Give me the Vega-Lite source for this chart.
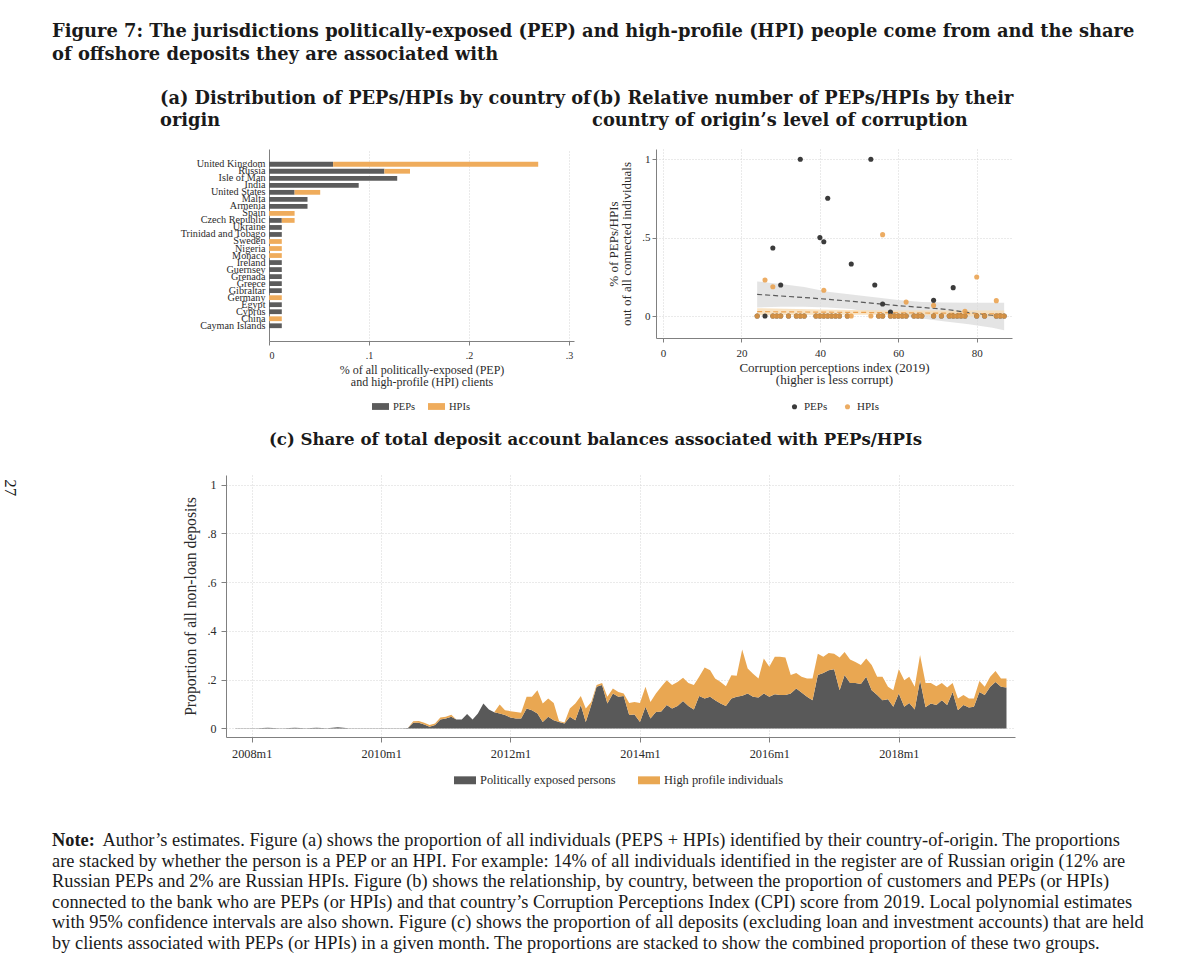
{
  "$schema": "https://vega.github.io/schema/vega-lite/v6.json",
  "background": "white",
  "padding": {"left": 2, "top": 23, "right": 5, "bottom": 5},
  "config": {
    "font": "Liberation Serif",
    "view": {"stroke": null},
    "axis": {"domainColor": "#808080", "tickColor": "#808080", "labelColor": "#2b2b2b", "titleColor": "#2b2b2b", "titleFontWeight": "normal", "gridColor": "#d4d4d4", "gridDash": [1, 2], "labelFont": "Liberation Serif", "titleFont": "Liberation Serif"},
    "legend": {"labelFont": "Liberation Serif", "labelColor": "#2b2b2b", "layout": {"bottom": {"anchor": "middle"}}},
    "title": {"font": "DejaVu Serif", "fontWeight": "bold", "color": "#1a1a1a"}
  },
  "title": {"text": "27", "orient": "left", "anchor": "middle", "angle": 90, "font": "Liberation Serif", "fontWeight": "normal", "fontSize": 17, "offset": 17},
  "vconcat": [
    {
      "title": {"text": ["Figure 7: The jurisdictions politically-exposed (PEP) and high-profile (HPI) people come from and the share", "of offshore deposits they are associated with"], "anchor": "start", "fontSize": 17.86, "lineHeight": 23, "offset": 26},
      "vconcat": [
        {
          "title": {"text": "Note:", "subtitle": ["\u200b\u00a0\u00a0\u00a0\u00a0\u00a0\u00a0\u00a0\u00a0\u00a0\u00a0\u00a0Author’s estimates. Figure (a) shows the proportion of all individuals (PEPS + HPIs) identified by their country-of-origin. The proportions", "are stacked by whether the person is a PEP or an HPI. For example: 14% of all individuals identified in the register are of Russian origin (12% are", "Russian PEPs and 2% are Russian HPIs. Figure (b) shows the relationship, by country, between the proportion of customers and PEPs (or HPIs)", "connected to the bank who are PEPs (or HPIs) and that country’s Corruption Perceptions Index (CPI) score from 2019. Local polynomial estimates", "with 95% confidence intervals are also shown. Figure (c) shows the proportion of all deposits (excluding loan and investment accounts) that are held", "by clients associated with PEPs (or HPIs) in a given month. The proportions are stacked to show the combined proportion of these two groups."], "orient": "bottom", "anchor": "start", "dx": -108, "font": "Liberation Serif", "fontSize": 18.35, "fontWeight": "bold", "subtitleFont": "Liberation Serif", "subtitleFontSize": 18.35, "subtitleFontWeight": "normal", "subtitleColor": "#1a1a1a", "subtitleLineHeight": 20.6, "subtitlePadding": -18.35, "offset": 45},
          "vconcat": [
            {
              "title": {"text": ["(b) Relative number of PEPs/HPIs by their", "country of origin’s level of corruption"], "anchor": "start", "dx": 432, "fontSize": 17.8, "lineHeight": 22, "offset": -39.8},
              "vconcat": [
                {
                  "title": {"text": ["(a) Distribution of PEPs/HPIs by country of", "origin"], "anchor": "start", "dx": -20, "fontSize": 17.8, "lineHeight": 22, "offset": 19.2},
                  "center": true,
                  "spacing": 20,
                  "resolve": {"scale": {"color": "independent"}, "legend": {"color": "independent"}},
                  "vconcat": [
                    {
                      "hconcat": [
                        {
                          "width": 305,
                          "height": 192,
                          "data": {"values": [
                            {"country": "United Kingdom", "group": "PEPs", "share": 0.0641},
                            {"country": "United Kingdom", "group": "HPIs", "share": 0.2051},
                            {"country": "Russia", "group": "PEPs", "share": 0.1154},
                            {"country": "Russia", "group": "HPIs", "share": 0.0256},
                            {"country": "Isle of Man", "group": "PEPs", "share": 0.1282},
                            {"country": "India", "group": "PEPs", "share": 0.0897},
                            {"country": "United States", "group": "PEPs", "share": 0.0256},
                            {"country": "United States", "group": "HPIs", "share": 0.0256},
                            {"country": "Malta", "group": "PEPs", "share": 0.0385},
                            {"country": "Armenia", "group": "PEPs", "share": 0.0385},
                            {"country": "Spain", "group": "HPIs", "share": 0.0256},
                            {"country": "Czech Republic", "group": "PEPs", "share": 0.0128},
                            {"country": "Czech Republic", "group": "HPIs", "share": 0.0128},
                            {"country": "Ukraine", "group": "PEPs", "share": 0.0128},
                            {"country": "Trinidad and Tobago", "group": "PEPs", "share": 0.0128},
                            {"country": "Sweden", "group": "HPIs", "share": 0.0128},
                            {"country": "Nigeria", "group": "HPIs", "share": 0.0128},
                            {"country": "Monaco", "group": "HPIs", "share": 0.0128},
                            {"country": "Ireland", "group": "PEPs", "share": 0.0128},
                            {"country": "Guernsey", "group": "PEPs", "share": 0.0128},
                            {"country": "Grenada", "group": "PEPs", "share": 0.0128},
                            {"country": "Greece", "group": "PEPs", "share": 0.0128},
                            {"country": "Gibraltar", "group": "PEPs", "share": 0.0128},
                            {"country": "Germany", "group": "HPIs", "share": 0.0128},
                            {"country": "Egypt", "group": "PEPs", "share": 0.0128},
                            {"country": "Cyprus", "group": "PEPs", "share": 0.0128},
                            {"country": "China", "group": "HPIs", "share": 0.0128},
                            {"country": "Cayman Islands", "group": "PEPs", "share": 0.0128}
                          ]},
                          "mark": {"type": "bar"},
                          "encoding": {
                            "y": {"field": "country", "type": "nominal", "scale": {"domain": [" ", "United Kingdom", "Russia", "Isle of Man", "India", "United States", "Malta", "Armenia", "Spain", "Czech Republic", "Ukraine", "Trinidad and Tobago", "Sweden", "Nigeria", "Monaco", "Ireland", "Guernsey", "Grenada", "Greece", "Gibraltar", "Germany", "Egypt", "Cyprus", "China", "Cayman Islands", "  "], "paddingInner": 0.32, "paddingOuter": 0.83}, "axis": {"title": null, "ticks": false, "labelFontSize": 10.2, "labelPadding": 4}},
                            "x": {"field": "share", "type": "quantitative", "stack": "zero", "scale": {"domain": [0, 0.305], "nice": false}, "axis": {"values": [0, 0.1, 0.2, 0.3], "labelExpr": "datum.value == 0 ? '0' : datum.value == 1 ? '1' : replace(format(datum.value, '.1f'), '0.', '.')", "title": ["% of all politically-exposed (PEP)", "and high-profile (HPI) clients"], "grid": true, "tickSize": 4, "labelFontSize": 10, "labelPadding": 5, "titleFontSize": 12, "titleLineHeight": 12.3, "titlePadding": 4}},
                            "color": {"field": "group", "type": "nominal", "scale": {"domain": ["PEPs", "HPIs"], "range": ["#5c5c5c", "#efac5c"]}, "legend": {"title": null, "orient": "bottom", "direction": "horizontal", "symbolType": "M-1,-0.4H1V0.4H-1Z", "symbolSize": 289, "symbolStrokeWidth": 0, "labelFontSize": 10.5, "columnPadding": 12, "offset": 10}},
                            "order": {"field": "group", "sort": "descending"}
                          }
                        },
                        {
                          "width": 356,
                          "height": 189,
                          "encoding": {
                            "x": {"field": "cpi", "type": "quantitative", "scale": {"domain": [-1.8, 89], "nice": false, "zero": false}, "axis": {"values": [0, 20, 40, 60, 80], "title": ["Corruption perceptions index (2019)", "(higher is less corrupt)"], "grid": true, "tickSize": 4, "labelFontSize": 11, "labelPadding": 5, "titleFontSize": 13, "titleLineHeight": 12.5, "titlePadding": 3}}
                          },
                          "layer": [
                            {
                              "data": {"name": "fitp", "values": [
                                {"cpi": 24, "g": "PEPs", "fit": 0.138, "lo": 0.055, "hi": 0.221},
                                {"cpi": 30, "g": "PEPs", "fit": 0.128, "lo": 0.06, "hi": 0.205},
                                {"cpi": 36, "g": "PEPs", "fit": 0.118, "lo": 0.06, "hi": 0.185},
                                {"cpi": 42, "g": "PEPs", "fit": 0.107, "lo": 0.055, "hi": 0.155},
                                {"cpi": 48, "g": "PEPs", "fit": 0.094, "lo": 0.045, "hi": 0.138},
                                {"cpi": 54, "g": "PEPs", "fit": 0.08, "lo": 0.02, "hi": 0.12},
                                {"cpi": 60, "g": "PEPs", "fit": 0.066, "lo": 0.0, "hi": 0.102},
                                {"cpi": 66, "g": "PEPs", "fit": 0.055, "lo": -0.015, "hi": 0.09},
                                {"cpi": 72, "g": "PEPs", "fit": 0.043, "lo": -0.035, "hi": 0.086},
                                {"cpi": 78, "g": "PEPs", "fit": 0.022, "lo": -0.052, "hi": 0.085},
                                {"cpi": 84, "g": "PEPs", "fit": 0.005, "lo": -0.075, "hi": 0.085},
                                {"cpi": 87, "g": "PEPs", "fit": -0.005, "lo": -0.09, "hi": 0.085}
                              ]},
                              "mark": {"type": "area", "color": "#d9d9d9", "opacity": 0.7},
                              "encoding": {
                                "y": {"field": "lo", "type": "quantitative", "scale": {"domain": [-0.14, 1.065], "nice": false, "zero": false}, "axis": {"values": [0, 0.5, 1], "labelExpr": "datum.value == 0 ? '0' : datum.value == 1 ? '1' : replace(format(datum.value, '.1f'), '0.', '.')", "title": ["% of PEPs/HPIs", "out of all connected individuals"], "grid": true, "tickSize": 4, "labelFontSize": 11, "labelPadding": 2, "titleFontSize": 13, "titleLineHeight": 13.3, "titlePadding": 8}},
                                "y2": {"field": "hi"}
                              }
                            },
                            {
                              "data": {"name": "fith", "values": [
                                {"cpi": 24, "g": "HPIs", "fit": 0.028, "lo": 0.005, "hi": 0.05},
                                {"cpi": 40, "g": "HPIs", "fit": 0.025, "lo": 0.008, "hi": 0.042},
                                {"cpi": 56, "g": "HPIs", "fit": 0.022, "lo": 0.008, "hi": 0.036},
                                {"cpi": 72, "g": "HPIs", "fit": 0.018, "lo": 0.003, "hi": 0.035},
                                {"cpi": 87, "g": "HPIs", "fit": 0.013, "lo": -0.008, "hi": 0.035}
                              ]},
                              "mark": {"type": "area", "color": "#f7dcb4", "opacity": 0.8},
                              "encoding": {
                                "y": {"field": "lo", "type": "quantitative", "scale": {"domain": [-0.14, 1.065], "nice": false, "zero": false}, "axis": {"values": [0, 0.5, 1], "labelExpr": "datum.value == 0 ? '0' : datum.value == 1 ? '1' : replace(format(datum.value, '.1f'), '0.', '.')", "title": ["% of PEPs/HPIs", "out of all connected individuals"], "grid": true, "tickSize": 4, "labelFontSize": 11, "labelPadding": 2, "titleFontSize": 13, "titleLineHeight": 13.3, "titlePadding": 8}},
                                "y2": {"field": "hi"}
                              }
                            },
                            {
                              "data": {"name": "fitp"},
                              "mark": {"type": "line", "color": "#5a5a5a", "strokeWidth": 1.2, "strokeDash": [5, 3]},
                              "encoding": {
                                "y": {"field": "fit", "type": "quantitative", "scale": {"domain": [-0.14, 1.065], "nice": false, "zero": false}, "axis": {"values": [0, 0.5, 1], "labelExpr": "datum.value == 0 ? '0' : datum.value == 1 ? '1' : replace(format(datum.value, '.1f'), '0.', '.')", "title": ["% of PEPs/HPIs", "out of all connected individuals"], "grid": true, "tickSize": 4, "labelFontSize": 11, "labelPadding": 2, "titleFontSize": 13, "titleLineHeight": 13.3, "titlePadding": 8}}
                              }
                            },
                            {
                              "data": {"name": "fith"},
                              "mark": {"type": "line", "color": "#eba14e", "strokeWidth": 1.2, "strokeDash": [5, 3]},
                              "encoding": {
                                "y": {"field": "fit", "type": "quantitative", "scale": {"domain": [-0.14, 1.065], "nice": false, "zero": false}, "axis": {"values": [0, 0.5, 1], "labelExpr": "datum.value == 0 ? '0' : datum.value == 1 ? '1' : replace(format(datum.value, '.1f'), '0.', '.')", "title": ["% of PEPs/HPIs", "out of all connected individuals"], "grid": true, "tickSize": 4, "labelFontSize": 11, "labelPadding": 2, "titleFontSize": 13, "titleLineHeight": 13.3, "titlePadding": 8}}
                              }
                            },
                            {
                              "data": {"values": [
                                {"cpi": 24, "group": "PEPs", "share": 0}, {"cpi": 26, "group": "PEPs", "share": 0}, {"cpi": 28, "group": "PEPs", "share": 0.434}, {"cpi": 28, "group": "PEPs", "share": 0}, {"cpi": 29, "group": "PEPs", "share": 0}, {"cpi": 30, "group": "PEPs", "share": 0.198}, {"cpi": 30, "group": "PEPs", "share": 0}, {"cpi": 32, "group": "PEPs", "share": 0}, {"cpi": 34, "group": "PEPs", "share": 0}, {"cpi": 35, "group": "PEPs", "share": 1}, {"cpi": 35, "group": "PEPs", "share": 0}, {"cpi": 36, "group": "PEPs", "share": 0}, {"cpi": 39, "group": "PEPs", "share": 0}, {"cpi": 40, "group": "PEPs", "share": 0.5}, {"cpi": 40, "group": "PEPs", "share": 0}, {"cpi": 41, "group": "PEPs", "share": 0.474}, {"cpi": 41, "group": "PEPs", "share": 0}, {"cpi": 42, "group": "PEPs", "share": 0.751}, {"cpi": 42, "group": "PEPs", "share": 0}, {"cpi": 43, "group": "PEPs", "share": 0}, {"cpi": 44, "group": "PEPs", "share": 0}, {"cpi": 45, "group": "PEPs", "share": 0}, {"cpi": 47, "group": "PEPs", "share": 0}, {"cpi": 48, "group": "PEPs", "share": 0.332}, {"cpi": 53, "group": "PEPs", "share": 1}, {"cpi": 54, "group": "PEPs", "share": 0.198}, {"cpi": 55, "group": "PEPs", "share": 0}, {"cpi": 56, "group": "PEPs", "share": 0.077}, {"cpi": 56, "group": "PEPs", "share": 0}, {"cpi": 58, "group": "PEPs", "share": 0.026}, {"cpi": 58, "group": "PEPs", "share": 0}, {"cpi": 59, "group": "PEPs", "share": 0}, {"cpi": 60, "group": "PEPs", "share": 0}, {"cpi": 61, "group": "PEPs", "share": 0}, {"cpi": 62, "group": "PEPs", "share": 0}, {"cpi": 64, "group": "PEPs", "share": 0}, {"cpi": 65, "group": "PEPs", "share": 0}, {"cpi": 66, "group": "PEPs", "share": 0}, {"cpi": 69, "group": "PEPs", "share": 0.1}, {"cpi": 69, "group": "PEPs", "share": 0}, {"cpi": 71, "group": "PEPs", "share": 0}, {"cpi": 73, "group": "PEPs", "share": 0}, {"cpi": 74, "group": "PEPs", "share": 0.181}, {"cpi": 74, "group": "PEPs", "share": 0}, {"cpi": 75, "group": "PEPs", "share": 0}, {"cpi": 76, "group": "PEPs", "share": 0}, {"cpi": 77, "group": "PEPs", "share": 0}, {"cpi": 80, "group": "PEPs", "share": 0}, {"cpi": 82, "group": "PEPs", "share": 0}, {"cpi": 85, "group": "PEPs", "share": 0}, {"cpi": 86, "group": "PEPs", "share": 0}, {"cpi": 87, "group": "PEPs", "share": 0},
                                {"cpi": 24, "group": "HPIs", "share": 0}, {"cpi": 26, "group": "HPIs", "share": 0.23}, {"cpi": 28, "group": "HPIs", "share": 0.187}, {"cpi": 28, "group": "HPIs", "share": 0}, {"cpi": 29, "group": "HPIs", "share": 0}, {"cpi": 30, "group": "HPIs", "share": 0}, {"cpi": 32, "group": "HPIs", "share": 0}, {"cpi": 34, "group": "HPIs", "share": 0}, {"cpi": 35, "group": "HPIs", "share": 0}, {"cpi": 36, "group": "HPIs", "share": 0}, {"cpi": 39, "group": "HPIs", "share": 0}, {"cpi": 40, "group": "HPIs", "share": 0}, {"cpi": 41, "group": "HPIs", "share": 0.164}, {"cpi": 41, "group": "HPIs", "share": 0}, {"cpi": 42, "group": "HPIs", "share": 0}, {"cpi": 43, "group": "HPIs", "share": 0}, {"cpi": 44, "group": "HPIs", "share": 0}, {"cpi": 45, "group": "HPIs", "share": 0}, {"cpi": 47, "group": "HPIs", "share": 0}, {"cpi": 48, "group": "HPIs", "share": 0}, {"cpi": 53, "group": "HPIs", "share": 0}, {"cpi": 55, "group": "HPIs", "share": 0}, {"cpi": 56, "group": "HPIs", "share": 0.519}, {"cpi": 56, "group": "HPIs", "share": 0}, {"cpi": 58, "group": "HPIs", "share": 0}, {"cpi": 59, "group": "HPIs", "share": 0}, {"cpi": 60, "group": "HPIs", "share": 0}, {"cpi": 61, "group": "HPIs", "share": 0}, {"cpi": 62, "group": "HPIs", "share": 0.089}, {"cpi": 62, "group": "HPIs", "share": 0}, {"cpi": 64, "group": "HPIs", "share": 0}, {"cpi": 65, "group": "HPIs", "share": 0}, {"cpi": 66, "group": "HPIs", "share": 0}, {"cpi": 69, "group": "HPIs", "share": 0.068}, {"cpi": 69, "group": "HPIs", "share": 0}, {"cpi": 71, "group": "HPIs", "share": 0}, {"cpi": 73, "group": "HPIs", "share": 0}, {"cpi": 74, "group": "HPIs", "share": 0}, {"cpi": 75, "group": "HPIs", "share": 0}, {"cpi": 76, "group": "HPIs", "share": 0}, {"cpi": 77, "group": "HPIs", "share": 0.03}, {"cpi": 77, "group": "HPIs", "share": 0}, {"cpi": 80, "group": "HPIs", "share": 0.249}, {"cpi": 80, "group": "HPIs", "share": 0}, {"cpi": 82, "group": "HPIs", "share": 0}, {"cpi": 85, "group": "HPIs", "share": 0.098}, {"cpi": 85, "group": "HPIs", "share": 0}, {"cpi": 86, "group": "HPIs", "share": 0}, {"cpi": 87, "group": "HPIs", "share": 0}
                              ]},
                              "mark": {"type": "circle", "size": 26, "opacity": 1},
                              "encoding": {
                                "y": {"field": "share", "type": "quantitative", "scale": {"domain": [-0.14, 1.065], "nice": false, "zero": false}, "axis": {"values": [0, 0.5, 1], "labelExpr": "datum.value == 0 ? '0' : datum.value == 1 ? '1' : replace(format(datum.value, '.1f'), '0.', '.')", "title": ["% of PEPs/HPIs", "out of all connected individuals"], "grid": true, "tickSize": 4, "labelFontSize": 11, "labelPadding": 2, "titleFontSize": 13, "titleLineHeight": 13.3, "titlePadding": 8}},
                                "color": {"field": "group", "type": "nominal", "scale": {"domain": ["PEPs", "HPIs"], "range": ["#3b3b3b", "rgba(233,157,72,0.85)"]}, "legend": {"title": null, "orient": "bottom", "direction": "horizontal", "symbolType": "circle", "symbolSize": 26, "labelFontSize": 11, "columnPadding": 14, "offset": 14}}
                              }
                            }
                          ]
                        }
                      ],
                      "spacing": 33,
                      "resolve": {"scale": {"color": "independent"}, "legend": {"color": "independent"}}
                    },
                    {
                      "hconcat": [
                        {
                          "width": 789,
                          "height": 262,
                          "title": {"text": "(c) Share of total deposit account balances associated with PEPs/HPIs", "anchor": "middle", "frame": "group", "dx": -25, "fontSize": 16.6, "offset": 26},
                          "data": {"values": [
                            {"d": "2007-10-01", "PEP": 0.001, "HPI": 0}, {"d": "2007-11-01", "PEP": 0.001, "HPI": 0}, {"d": "2007-12-01", "PEP": 0.001, "HPI": 0},
                            {"d": "2008-01-01", "PEP": 0.001, "HPI": 0}, {"d": "2008-02-01", "PEP": 0.001, "HPI": 0}, {"d": "2008-03-01", "PEP": 0.002, "HPI": 0}, {"d": "2008-04-01", "PEP": 0.003, "HPI": 0}, {"d": "2008-05-01", "PEP": 0.002, "HPI": 0}, {"d": "2008-06-01", "PEP": 0.001, "HPI": 0}, {"d": "2008-07-01", "PEP": 0.001, "HPI": 0}, {"d": "2008-08-01", "PEP": 0.002, "HPI": 0}, {"d": "2008-09-01", "PEP": 0.003, "HPI": 0}, {"d": "2008-10-01", "PEP": 0.002, "HPI": 0}, {"d": "2008-11-01", "PEP": 0.001, "HPI": 0}, {"d": "2008-12-01", "PEP": 0.002, "HPI": 0},
                            {"d": "2009-01-01", "PEP": 0.003, "HPI": 0}, {"d": "2009-02-01", "PEP": 0.002, "HPI": 0}, {"d": "2009-03-01", "PEP": 0.001, "HPI": 0}, {"d": "2009-04-01", "PEP": 0.003, "HPI": 0}, {"d": "2009-05-01", "PEP": 0.005, "HPI": 0}, {"d": "2009-06-01", "PEP": 0.003, "HPI": 0}, {"d": "2009-07-01", "PEP": 0.001, "HPI": 0}, {"d": "2009-08-01", "PEP": 0.001, "HPI": 0}, {"d": "2009-09-01", "PEP": 0.001, "HPI": 0}, {"d": "2009-10-01", "PEP": 0.001, "HPI": 0}, {"d": "2009-11-01", "PEP": 0.001, "HPI": 0}, {"d": "2009-12-01", "PEP": 0.001, "HPI": 0},
                            {"d": "2010-01-01", "PEP": 0.001, "HPI": 0}, {"d": "2010-02-01", "PEP": 0.001, "HPI": 0}, {"d": "2010-03-01", "PEP": 0.001, "HPI": 0}, {"d": "2010-04-01", "PEP": 0.001, "HPI": 0}, {"d": "2010-05-01", "PEP": 0.001, "HPI": 0}, {"d": "2010-06-01", "PEP": 0.002, "HPI": 0}, {"d": "2010-07-01", "PEP": 0.023, "HPI": 0.007}, {"d": "2010-08-01", "PEP": 0.023, "HPI": 0.008}, {"d": "2010-09-01", "PEP": 0.016, "HPI": 0.007}, {"d": "2010-10-01", "PEP": 0.007, "HPI": 0.007}, {"d": "2010-11-01", "PEP": 0.014, "HPI": 0.006}, {"d": "2010-12-01", "PEP": 0.037, "HPI": 0.008},
                            {"d": "2011-01-01", "PEP": 0.041, "HPI": 0.007}, {"d": "2011-02-01", "PEP": 0.048, "HPI": 0.008}, {"d": "2011-03-01", "PEP": 0.037, "HPI": 0}, {"d": "2011-04-01", "PEP": 0.037, "HPI": 0}, {"d": "2011-05-01", "PEP": 0.059, "HPI": 0}, {"d": "2011-06-01", "PEP": 0.037, "HPI": 0}, {"d": "2011-07-01", "PEP": 0.061, "HPI": 0}, {"d": "2011-08-01", "PEP": 0.102, "HPI": 0}, {"d": "2011-09-01", "PEP": 0.078, "HPI": 0}, {"d": "2011-10-01", "PEP": 0.067, "HPI": 0}, {"d": "2011-11-01", "PEP": 0.061, "HPI": 0.037}, {"d": "2011-12-01", "PEP": 0.055, "HPI": 0.02},
                            {"d": "2012-01-01", "PEP": 0.045, "HPI": 0.026}, {"d": "2012-02-01", "PEP": 0.041, "HPI": 0.027}, {"d": "2012-03-01", "PEP": 0.041, "HPI": 0.023}, {"d": "2012-04-01", "PEP": 0.082, "HPI": 0.048}, {"d": "2012-05-01", "PEP": 0.075, "HPI": 0.055}, {"d": "2012-06-01", "PEP": 0.061, "HPI": 0.096}, {"d": "2012-07-01", "PEP": 0.027, "HPI": 0.075}, {"d": "2012-08-01", "PEP": 0.048, "HPI": 0.075}, {"d": "2012-09-01", "PEP": 0.034, "HPI": 0.071}, {"d": "2012-10-01", "PEP": 0.027, "HPI": 0.004}, {"d": "2012-11-01", "PEP": 0.02, "HPI": 0.005}, {"d": "2012-12-01", "PEP": 0.048, "HPI": 0.034},
                            {"d": "2013-01-01", "PEP": 0.034, "HPI": 0.068}, {"d": "2013-02-01", "PEP": 0.096, "HPI": 0.037}, {"d": "2013-03-01", "PEP": 0.027, "HPI": 0.055}, {"d": "2013-04-01", "PEP": 0.096, "HPI": 0.013}, {"d": "2013-05-01", "PEP": 0.171, "HPI": 0.007}, {"d": "2013-06-01", "PEP": 0.178, "HPI": 0.009}, {"d": "2013-07-01", "PEP": 0.102, "HPI": 0.028}, {"d": "2013-08-01", "PEP": 0.143, "HPI": 0.021}, {"d": "2013-09-01", "PEP": 0.13, "HPI": 0.02}, {"d": "2013-10-01", "PEP": 0.133, "HPI": 0.01}, {"d": "2013-11-01", "PEP": 0.055, "HPI": 0.05}, {"d": "2013-12-01", "PEP": 0.057, "HPI": 0.052},
                            {"d": "2014-01-01", "PEP": 0.027, "HPI": 0.078}, {"d": "2014-02-01", "PEP": 0.089, "HPI": 0.082}, {"d": "2014-03-01", "PEP": 0.041, "HPI": 0.068}, {"d": "2014-04-01", "PEP": 0.068, "HPI": 0.075}, {"d": "2014-05-01", "PEP": 0.07, "HPI": 0.101}, {"d": "2014-06-01", "PEP": 0.096, "HPI": 0.102}, {"d": "2014-07-01", "PEP": 0.082, "HPI": 0.096}, {"d": "2014-08-01", "PEP": 0.092, "HPI": 0.099}, {"d": "2014-09-01", "PEP": 0.113, "HPI": 0.095}, {"d": "2014-10-01", "PEP": 0.092, "HPI": 0.095}, {"d": "2014-11-01", "PEP": 0.078, "HPI": 0.1}, {"d": "2014-12-01", "PEP": 0.133, "HPI": 0.079},
                            {"d": "2015-01-01", "PEP": 0.123, "HPI": 0.127}, {"d": "2015-02-01", "PEP": 0.13, "HPI": 0.109}, {"d": "2015-03-01", "PEP": 0.116, "HPI": 0.089}, {"d": "2015-04-01", "PEP": 0.102, "HPI": 0.089}, {"d": "2015-05-01", "PEP": 0.092, "HPI": 0.081}, {"d": "2015-06-01", "PEP": 0.123, "HPI": 0.095}, {"d": "2015-07-01", "PEP": 0.13, "HPI": 0.086}, {"d": "2015-08-01", "PEP": 0.134, "HPI": 0.19}, {"d": "2015-09-01", "PEP": 0.143, "HPI": 0.103}, {"d": "2015-10-01", "PEP": 0.13, "HPI": 0.095}, {"d": "2015-11-01", "PEP": 0.127, "HPI": 0.078}, {"d": "2015-12-01", "PEP": 0.143, "HPI": 0.144},
                            {"d": "2016-01-01", "PEP": 0.13, "HPI": 0.123}, {"d": "2016-02-01", "PEP": 0.14, "HPI": 0.154}, {"d": "2016-03-01", "PEP": 0.137, "HPI": 0.157}, {"d": "2016-04-01", "PEP": 0.137, "HPI": 0.154}, {"d": "2016-05-01", "PEP": 0.143, "HPI": 0.076}, {"d": "2016-06-01", "PEP": 0.164, "HPI": 0.064}, {"d": "2016-07-01", "PEP": 0.148, "HPI": 0.064}, {"d": "2016-08-01", "PEP": 0.13, "HPI": 0.075}, {"d": "2016-09-01", "PEP": 0.116, "HPI": 0.089}, {"d": "2016-10-01", "PEP": 0.219, "HPI": 0.088}, {"d": "2016-11-01", "PEP": 0.228, "HPI": 0.066}, {"d": "2016-12-01", "PEP": 0.239, "HPI": 0.071},
                            {"d": "2017-01-01", "PEP": 0.243, "HPI": 0.064}, {"d": "2017-02-01", "PEP": 0.157, "HPI": 0.134}, {"d": "2017-03-01", "PEP": 0.219, "HPI": 0.095}, {"d": "2017-04-01", "PEP": 0.187, "HPI": 0.096}, {"d": "2017-05-01", "PEP": 0.187, "HPI": 0.086}, {"d": "2017-06-01", "PEP": 0.182, "HPI": 0.078}, {"d": "2017-07-01", "PEP": 0.212, "HPI": 0.075}, {"d": "2017-08-01", "PEP": 0.157, "HPI": 0.103}, {"d": "2017-09-01", "PEP": 0.137, "HPI": 0.075}, {"d": "2017-10-01", "PEP": 0.116, "HPI": 0.096}, {"d": "2017-11-01", "PEP": 0.12, "HPI": 0.051}, {"d": "2017-12-01", "PEP": 0.089, "HPI": 0.068},
                            {"d": "2018-01-01", "PEP": 0.143, "HPI": 0.1}, {"d": "2018-02-01", "PEP": 0.089, "HPI": 0.109}, {"d": "2018-03-01", "PEP": 0.105, "HPI": 0.107}, {"d": "2018-04-01", "PEP": 0.078, "HPI": 0.093}, {"d": "2018-05-01", "PEP": 0.198, "HPI": 0.103}, {"d": "2018-06-01", "PEP": 0.087, "HPI": 0.1}, {"d": "2018-07-01", "PEP": 0.102, "HPI": 0.085}, {"d": "2018-08-01", "PEP": 0.096, "HPI": 0.077}, {"d": "2018-09-01", "PEP": 0.116, "HPI": 0.071}, {"d": "2018-10-01", "PEP": 0.096, "HPI": 0.072}, {"d": "2018-11-01", "PEP": 0.15, "HPI": 0.037}, {"d": "2018-12-01", "PEP": 0.075, "HPI": 0.048},
                            {"d": "2019-01-01", "PEP": 0.096, "HPI": 0.041}, {"d": "2019-02-01", "PEP": 0.086, "HPI": 0.037}, {"d": "2019-03-01", "PEP": 0.089, "HPI": 0.034}, {"d": "2019-04-01", "PEP": 0.15, "HPI": 0.045}, {"d": "2019-05-01", "PEP": 0.137, "HPI": 0.034}, {"d": "2019-06-01", "PEP": 0.171, "HPI": 0.041}, {"d": "2019-07-01", "PEP": 0.191, "HPI": 0.045}, {"d": "2019-08-01", "PEP": 0.171, "HPI": 0.034}, {"d": "2019-09-01", "PEP": 0.168, "HPI": 0.037}
                          ]},
                          "transform": [{"fold": ["PEP", "HPI"], "as": ["g", "v"]}],
                          "mark": {"type": "area"},
                          "encoding": {
                            "x": {"field": "d", "type": "temporal", "scale": {"type": "utc", "domain": [{"year": 2007, "month": 8, "date": 9, "utc": true}, {"year": 2019, "month": 10, "date": 19, "utc": true}], "nice": false}, "axis": {"values": [{"year": 2008, "month": 1, "date": 1, "utc": true}, {"year": 2010, "month": 1, "date": 1, "utc": true}, {"year": 2012, "month": 1, "date": 1, "utc": true}, {"year": 2014, "month": 1, "date": 1, "utc": true}, {"year": 2016, "month": 1, "date": 1, "utc": true}, {"year": 2018, "month": 1, "date": 1, "utc": true}], "labelExpr": "utcFormat(datum.value, '%Ym%-m')", "title": null, "grid": true, "tickSize": 5, "labelFontSize": 12.3, "labelPadding": 5}},
                            "y": {"field": "v", "type": "quantitative", "stack": "zero", "scale": {"domain": [-0.035, 1.04], "nice": false, "zero": false}, "axis": {"values": [0, 0.2, 0.4, 0.6, 0.8, 1], "labelExpr": "datum.value == 0 ? '0' : datum.value == 1 ? '1' : replace(format(datum.value, '.1f'), '0.', '.')", "title": "Proportion of all non-loan deposits", "grid": true, "tickSize": 5, "labelFontSize": 12, "labelPadding": 5, "titleFontSize": 15.7, "titlePadding": 9}},
                            "color": {"field": "g", "type": "nominal", "scale": {"domain": ["PEP", "HPI"], "range": ["#595959", "#e9a752"]}, "legend": {"title": null, "orient": "bottom", "direction": "horizontal", "labelExpr": "datum.label == 'PEP' ? 'Politically exposed persons' : 'High profile individuals'", "symbolType": "M-1,-0.36H1V0.36H-1Z", "symbolSize": 484, "symbolStrokeWidth": 0, "labelFontSize": 12.4, "columnPadding": 22, "offset": 9}},
                            "order": {"field": "g", "sort": "descending"}
                          }
                        },
                        {
                          "width": 40,
                          "height": 10,
                          "view": {"fill": "white", "stroke": null},
                          "data": {"values": [{}]},
                          "mark": {"type": "rect", "opacity": 0},
                          "encoding": {}
                        }
                      ],
                      "spacing": 0
                    }
                  ]
                }
              ]
            }
          ]
        }
      ]
    }
  ]
}
